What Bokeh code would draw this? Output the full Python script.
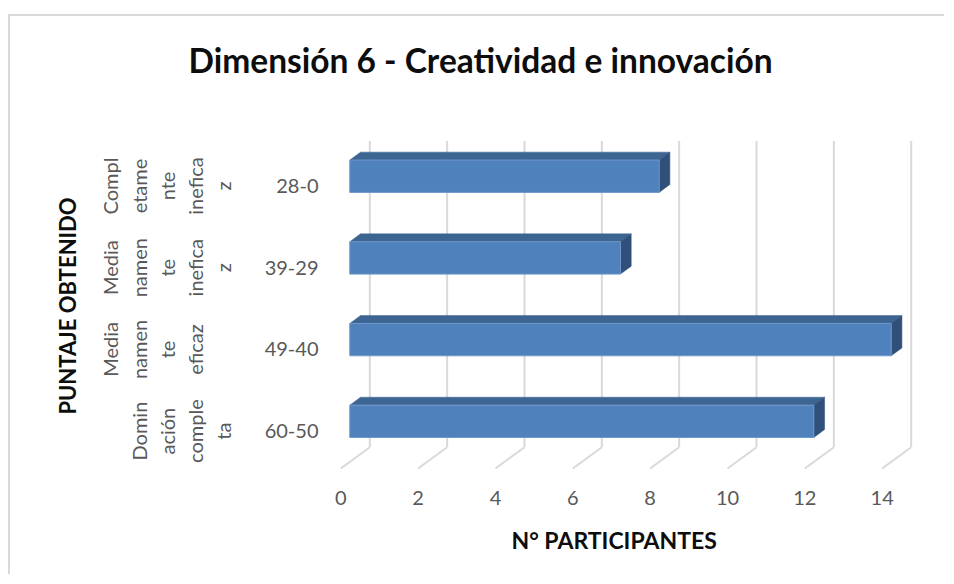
from bokeh.plotting import figure
from bokeh.models import Range1d, LinearAxis, FixedTicker, Title
from bokeh.embed import file_html
from bokeh.resources import INLINE

# ---------------- data ----------------
rangos = ["28-0", "39-29", "49-40", "60-50"]
niveles = [
    ["Compl", "etame", "nte", "inefica", "z"],
    ["Media", "namen", "te", "inefica", "z"],
    ["Media", "namen", "te", "eficaz"],
    ["Domin", "ación", "comple", "ta"],
]
participantes = [8, 7, 14, 12]
x_ticks = [0, 2, 4, 6, 8, 10, 12, 14]
titulo = "Dimensión 6 - Creatividad e innovación"
eje_x = "N° PARTICIPANTES"
eje_y = "PUNTAJE OBTENIDO"

# ---------------- layout / style ----------------
FONT = "Lato"
ypos = [4, 3, 2, 1]            # category slots, top to bottom
label_pad = [0, 0, 1, 0]       # empty trailing lines in wrapped labels (Excel layout)
DX, DY = -0.75, -0.261         # depth (back wall -> front edge)
F_FRONT, F_BACK = 0.69, 0.32   # bar depth fractions
HALF = 0.198                   # half bar thickness
FLOOR_Y = 0.503
WALL_TOP = 4.25
DYL = -0.30                    # category label plane
X0, X1 = -1.0163, 14.913
Y0, Y1 = 0.1199, 4.3427

p = figure(width=936, height=560,
           x_range=Range1d(X0, X1), y_range=Range1d(Y0, Y1),
           x_axis_location=None, y_axis_location=None,
           output_backend="svg", toolbar_location=None,
           min_border_left=320, min_border_right=0,
           min_border_top=117, min_border_bottom=98)
p.grid.visible = False
p.outline_line_color = None
p.background_fill_color = "white"
p.border_fill_color = "white"
p.margin = (14, 0, 0, 8)
p.styles = {"border-left": "2px solid #D9D9D9", "border-top": "2px solid #D9D9D9"}

p.extra_x_ranges = {"front": Range1d(X0 - DX, X1 - DX)}
p.extra_y_ranges = {"front": Range1d(Y0 - DYL, Y1 - DYL)}

# ---------------- walls / gridlines ----------------
grid_color = "#D9D9D9"
p.segment(x0=x_ticks, y0=[FLOOR_Y] * len(x_ticks), x1=x_ticks, y1=[WALL_TOP] * len(x_ticks),
          line_color=grid_color, line_width=2)
p.segment(x0=x_ticks, y0=[FLOOR_Y] * len(x_ticks),
          x1=[t + DX for t in x_ticks], y1=[FLOOR_Y + DY] * len(x_ticks),
          line_color=grid_color, line_width=2)

# ---------------- 3D bars ----------------
fx, fy = F_FRONT * DX, F_FRONT * DY
bx, by = F_BACK * DX, F_BACK * DY
top_xs, top_ys, side_xs, side_ys = [], [], [], []
for v, y in zip(participantes, ypos):
    top_xs.append([fx, v + fx, v + bx, bx])
    top_ys.append([y + fy + HALF, y + fy + HALF, y + by + HALF, y + by + HALF])
    side_xs.append([v + fx, v + bx, v + bx, v + fx])
    side_ys.append([y + fy + HALF, y + by + HALF, y + by - HALF, y + fy - HALF])

p.patches(xs=top_xs, ys=top_ys, fill_color="#3D6591", line_color="#3D6591", line_width=0.5)
p.patches(xs=side_xs, ys=side_ys, fill_color="#30507A", line_color="#30507A", line_width=0.5)
p.quad(left=[fx] * len(participantes), right=[v + fx for v in participantes],
       bottom=[y + fy - HALF for y in ypos], top=[y + fy + HALF for y in ypos],
       fill_color="#4F81BD", line_color="#6F97C9", line_width=1)

# ---------------- axes ----------------
def style(ax):
    ax.axis_line_color = None
    ax.major_tick_line_color = None
    ax.minor_tick_line_color = None
    ax.major_tick_out = 0
    ax.major_tick_in = 0
    ax.major_label_text_font = FONT
    ax.major_label_text_font_size = "20px"
    ax.major_label_text_color = "#595959"

xaxis = LinearAxis(x_range_name="front", ticker=FixedTicker(ticks=x_ticks))
style(xaxis)
xaxis.major_label_standoff = 12
p.add_layout(xaxis, "below")

yin = LinearAxis(y_range_name="front", ticker=FixedTicker(ticks=ypos),
                 major_label_overrides={y: r for y, r in zip(ypos, rangos)})
style(yin)
yin.major_label_standoff = 12
p.add_layout(yin, "left")

yout = LinearAxis(y_range_name="front", ticker=FixedTicker(ticks=ypos),
                  major_label_overrides={y: "\n".join(n + [""] * k)
                                         for y, n, k in zip(ypos, niveles, label_pad)})
style(yout)
yout.major_label_standoff = 26
yout.major_label_orientation = "vertical"
yout.major_label_text_line_height = 1.18
yout.axis_label = eje_y
yout.axis_label_standoff = 14
yout.axis_label_text_font = FONT
yout.axis_label_text_font_size = "22px"
yout.axis_label_text_font_style = "bold"
yout.axis_label_text_color = "#0D0D0D"
p.add_layout(yout, "left")

# x-axis title (placed like the reference, left of the frame centre)
xt = Title(text=eje_x, align="left", offset=181, text_font=FONT,
           text_font_size="23px", text_font_style="bold", text_color="#0D0D0D",
           standoff=33)
p.add_layout(xt, "below")

# chart title (a trailing empty line lifts it to the top of the chart area)
p.title.text = titulo + "\n"
p.title.align = "left"
p.title.offset = -142
p.title.text_font = FONT
p.title.text_font_size = "33.5px"
p.title.text_font_style = "bold"
p.title.text_color = "#0D0D0D"
p.title.text_line_height = 1.0
p.title.standoff = 27

open("out.html", "w").write(file_html(p, INLINE))
